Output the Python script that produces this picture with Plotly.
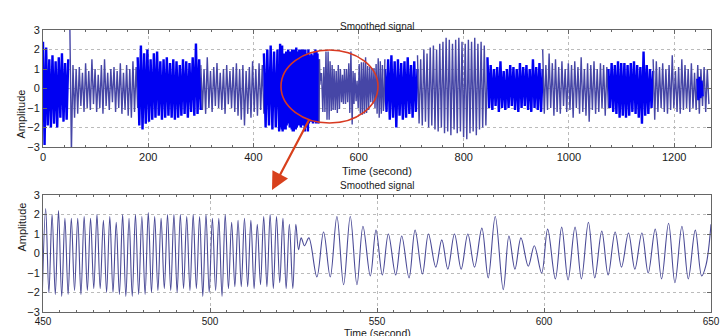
import numpy as np
import plotly.graph_objects as go

# ---------------- data ----------------
# Overview signal (top panel): extrema values per segment, sampled evenly over each span
seg_kind = ["dense", "light", "dense", "light", "dense",
            "dense", "light", "dense", "light", "dense", "light", "dense"]
seg_spans = [(0, 48), (51, 180), (180, 300), (300, 420), (420, 449),
             (650, 712), (712, 845), (845, 950), (950, 1075), (1075, 1160),
             (1160, 1266), (1244, 1254)]
sigA = [2.4, -2.9, 2.1, -1.9, 1.5, -2.0, 1.7, -1.8, 1.4, -2.0, 1.6, -1.5, 1.8, -1.7, 1.3, -1.6, 1.5]
sigB = [3.3, -3.3, 1.2, -1.5, 1.0, -1.3, 1.1, -0.9, 0.8, -1.2, 1.3, -1.0, 0.9, -1.1, 1.5, -0.8,
        1.0, -1.2, 0.7, -1.0, 1.2, -1.3, 1.5, -0.9, 0.8, -1.1, 1.0, -0.7, 1.1, -1.2, 0.9, -1.0,
        1.3, -1.3, 0.8, -1.1, 1.2, -1.4, 1.0, -1.5, 1.4, -1.2, 1.1, -1.0]
sigC = [1.6, -1.9, 2.2, -2.1, 1.8, -1.8, 2.0, -1.7, 1.5, -1.6, 1.8, -1.5, 1.9, -1.4, 1.4, -1.6,
        1.5, -1.5, 1.6, -1.4, 1.3, -1.5, 1.5, -1.6, 1.4, -1.5, 1.2, -1.4, 1.5, -1.3, 1.4, -1.5,
        1.3, -1.2, 1.6, -1.4, 2.3, -1.3, 1.5, -1.1]
sigD = [1.2, -1.1, 1.0, -1.3, 1.6, -1.0, 0.9, -1.2, 1.1, -0.9, 1.3, -1.0, 0.8, -1.1, 1.0, -1.3,
        1.2, -0.8, 0.9, -1.0, 1.1, -1.2, 1.3, -1.4, 1.0, -1.6, 1.2, -1.9, 0.9, -1.3, 1.1, -1.5,
        1.4, -1.2, 1.0, -1.4, 1.3, -1.1, 1.2, -1.3]
sigE = [1.8, -2.0, 2.0, -1.9, 2.2, -2.1, 1.9, -2.0, 2.0, -2.2]
sigF = [1.0, -1.2, 1.5, -1.6, 1.7, -1.5, 1.4, -2.0, 1.5, -1.4, 1.3, -1.6, 1.4, -1.5, 1.6, -1.3,
        1.2, -1.5, 1.4, -1.2, 1.0]
sigG = [1.7, -1.8, 1.5, -1.9, 2.0, -1.7, 1.8, -2.0, 2.1, -1.9, 2.2, -2.1, 2.0, -2.2, 2.3, -2.0,
        2.4, -2.3, 2.6, -2.2, 2.5, -2.4, 2.3, -2.1, 2.5, -2.3, 2.6, -2.2, 2.4, -2.5, 2.3, -2.6,
        2.5, -2.3, 2.4, -2.2, 2.6, -2.4, 2.3, -2.1, 2.4, -2.0, 2.2, -1.9, 1.5]
sigH = [1.6, -1.0, 1.2, -1.1, 1.0, -0.9, 1.1, -1.2, 1.4, -1.0, 0.9, -1.1, 1.0, -1.0, 1.2, -0.9,
        1.1, -1.1, 1.0, -1.2, 1.3, -1.0, 1.1, -0.9, 1.2, -1.1, 1.0, -1.2, 1.5, -1.0, 1.1, -1.1,
        1.3, -1.2, 1.0]
sigI = [2.0, -1.3, 1.2, -1.1, 1.8, -1.0, 1.3, -1.4, 1.5, -1.2, 1.1, -1.3, 1.4, -0.9, 1.0, -1.2,
        1.3, -1.1, 1.2, -1.5, 1.4, -1.0, 1.1, -1.3, 1.6, -1.2, 1.0, -1.4, 1.3, -1.7, 1.2, -1.1,
        1.4, -1.3, 1.0, -1.2, 1.3, -1.0, 1.2, -1.4, 1.1, -1.0]
sigJ = [1.0, -1.0, 1.3, -1.2, 1.2, -1.3, 1.4, -1.5, 1.3, -1.4, 1.3, -1.5, 1.2, -1.4, 1.3, -1.2,
        1.4, -1.3, 1.2, -1.5, 1.1, -1.8, 1.9, -1.4, 1.2, -1.3, 1.0, -1.0, 0.9]
sigK = [1.5, -1.6, 1.4, -1.2, 1.1, -1.0, 1.3, -1.2, 1.0, -1.3, 1.2, -1.1, 1.7, -1.0, 0.9, -1.2,
        1.1, -1.3, 1.5, -1.1, 1.2, -1.0, 1.0, -1.2, 1.3, -1.0, 0.8, -1.1, 1.2, -1.3, 1.0, -0.9,
        1.1, -1.2, 1.0, -0.8]
sigL = [0.5, -0.6, 0.6, -0.5, 0.4, -0.4]
seg_values = [sigA, sigB, sigC, sigD, sigE, sigF, sigG, sigH, sigI, sigJ, sigK, sigL]

# Zoomed signal 450-650 s
fast_start, fast_period = 449.84, 1.92       # first trough time, cycle length (s)
fast_troughs = [-1.8, -2.0, -2.1, -2.2, -2.1, -1.9, -2.1, -1.9, -1.8, -1.8, -2.0, -2.0, -2.1,
                -2.2, -2.2, -2.1, -2.1, -2.0, -1.9, -1.8, -1.9, -2.0, -1.8, -1.9, -1.8, -2.2,
                -2.0, -1.9, -2.2, -1.8, -1.7, -1.7, -1.7, -1.8, -1.6, -1.7, -1.8, -1.5, -1.8]
fast_peaks = [2.3, 2.0, 2.2, 1.8, 1.8, 1.8, 1.9, 1.8, 2.0, 1.7, 1.9, 1.6, 2.0, 1.8, 2.0, 1.9,
              2.1, 1.9, 1.8, 2.0, 2.0, 2.0, 1.9, 2.0, 1.9, 2.0, 1.8, 1.8, 2.0, 1.6, 1.7, 1.8,
              1.7, 1.5, 1.9, 2.0, 1.9, 1.8, 1.5]
slow_t = [524.8, 525.7, 526.5, 527.3, 528.3, 529.6, 532.0, 534.0, 536.0, 538.0, 540.0, 542.0,
          544.0, 545.8, 548.0, 549.7, 551.6, 553.4, 555.6, 557.4, 559.6, 561.4, 563.6, 565.4,
          567.6, 569.4, 571.2, 573.2, 575.2, 577.2, 579.2, 581.4, 583.3, 585.4, 587.8, 589.5,
          591.3, 593.1, 595.3, 597.1, 599.3, 601.1, 603.4, 605.3, 607.2, 609.3, 611.2, 613.3,
          615.2, 617.3, 619.2, 621.3, 623.2, 625.3, 627.2, 629.3, 631.2, 633.3, 635.2, 637.3,
          639.2, 641.3, 643.2, 645.3, 647.2, 648.5, 650.0]
slow_v = [-1.8, 1.5, 0.2, 0.8, 0.4, 0.8, -1.2, 1.1, -1.2, 1.9, -1.6, 1.9,
          -1.6, 1.4, -1.15, 1.2, -1.1, 1.0, -1.1, 0.9, -1.25, 1.2, -1.05, 1.0,
          -0.7, 0.7, -0.8, 1.0, -0.8, 1.0, -0.7, 1.3, -1.25, 1.9, -1.85, 0.9,
          -0.8, 0.8, -0.65, 0.4, -1.0, 1.25, -1.3, 1.35, -1.35, 1.35, -1.3, 1.6,
          -1.25, 1.15, -1.1, 1.1, -0.7, 1.05, -0.8, 1.05, -1.0, 1.25, -1.3, 1.55,
          -1.5, 1.4, -1.3, 1.2, -1.15, -0.6, 1.5]

# ---------------- figure ----------------
W, H = 724, 336
DENSE = "#0000f2"
LIGHT = "#4646a6"
ZOOM_LINE = "#4a4a96"

fast_t, fast_v = [], []
for k in range(len(fast_peaks)):
    fast_t += [fast_start + k * fast_period, fast_start + k * fast_period + fast_period / 2]
    fast_v += [fast_troughs[k], fast_peaks[k]]

fig = go.Figure()

for kind, (t0, t1), vals in zip(seg_kind, seg_spans, seg_values):
    t = np.linspace(t0, t1, len(vals))
    fig.add_trace(go.Scatter(x=t, y=vals, mode="lines", xaxis="x", yaxis="y",
                             line=dict(color=DENSE if kind == "dense" else LIGHT,
                                       width=2.4 if kind == "dense" else 1.4)))
# the zoomed window inside the overview
fig.add_trace(go.Scatter(x=fast_t, y=fast_v, mode="lines", xaxis="x", yaxis="y",
                         line=dict(color=DENSE, width=2.4)))
fig.add_trace(go.Scatter(x=slow_t, y=slow_v, mode="lines", xaxis="x", yaxis="y",
                         line=dict(color=LIGHT, width=1.4)))

# bottom (zoomed) panel
fig.add_trace(go.Scatter(x=fast_t + slow_t, y=fast_v + slow_v, mode="lines",
                         xaxis="x2", yaxis="y2",
                         line=dict(color=ZOOM_LINE, width=1.1, shape="spline", smoothing=1.0)))

def px_x(p):
    return p / W

def px_y(p):
    return 1 - p / H

FONT = "Liberation Sans, Arial, sans-serif"
tickfont = dict(family=FONT, size=11, color="#1a1a1a")
axis_common = dict(showline=True, linecolor="#666", linewidth=1, mirror="ticks", ticks="inside",
                   ticklen=4, tickcolor="#666", showgrid=True, gridcolor="#bbb", griddash="dot",
                   gridwidth=1, zeroline=False)

fig.update_layout(
    width=W, height=H, margin=dict(l=0, r=0, t=0, b=0, autoexpand=False),
    paper_bgcolor="white", plot_bgcolor="white", showlegend=False, hovermode=False,
    xaxis=dict(domain=[px_x(43), px_x(711)], range=[0, 1270], anchor="y",
               tickvals=[0, 200, 400, 600, 800, 1000, 1200], tickfont=tickfont,
               minor=dict(dtick=40, tick0=0, ticks="inside", ticklen=2, tickcolor="#666", showgrid=False),
               **axis_common),
    yaxis=dict(domain=[px_y(147), px_y(30)], range=[-3, 3], anchor="x", dtick=1,
               tickfont=tickfont, **axis_common),
    xaxis2=dict(domain=[px_x(43), px_x(711)], range=[450, 650], anchor="y2",
                tickvals=[450, 500, 550, 600, 650], tickfont=dict(tickfont, size=10),
                minor=dict(dtick=5, tick0=450, ticks="inside", ticklen=2, tickcolor="#666", showgrid=False),
                **axis_common),
    yaxis2=dict(domain=[px_y(312), px_y(195)], range=[-3, 3], anchor="x2", dtick=1,
                tickfont=tickfont, **axis_common),
)

labfont = dict(family=FONT, size=11, color="#1a1a1a")
titlefont = dict(family=FONT, size=10, color="#1a1a1a")
ann = [
    dict(text="Smoothed signal", x=px_x(377), y=px_y(19), xref="paper", yref="paper",
         showarrow=False, font=titlefont),
    dict(text="Time (second)", x=px_x(377), y=px_y(163), xref="paper", yref="paper",
         yanchor="top", showarrow=False, font=labfont),
    dict(text="Amplitude", x=px_x(13), y=px_y(88), xref="paper", yref="paper", textangle=-90,
         showarrow=False, font=labfont),
    dict(text="Smoothed signal", x=px_x(377), y=px_y(185), xref="paper", yref="paper",
         showarrow=False, font=titlefont),
    dict(text="Time (second)", x=px_x(377), y=px_y(325), xref="paper", yref="paper",
         yanchor="top", showarrow=False, font=dict(labfont, size=10.5)),
    dict(text="Amplitude", x=px_x(13), y=px_y(254), xref="paper", yref="paper", textangle=-90,
         showarrow=False, font=labfont),
    dict(text="", x=px_x(272), y=px_y(190), xref="paper", yref="paper", showarrow=True,
         ax=38, ay=-72, arrowhead=2, arrowsize=1.6, arrowwidth=2.2, arrowcolor="#d8401c"),
]
fig.update_layout(annotations=ann)
fig.add_shape(type="circle", xref="paper", yref="paper",
              x0=px_x(281), x1=px_x(378), y0=px_y(123), y1=px_y(50),
              line=dict(color="#d83a22", width=1.6))

fig.write_html("out.html", config=dict(displayModeBar=False),
               post_script="document.body.style.margin='0';document.body.style.overflow='hidden';")
